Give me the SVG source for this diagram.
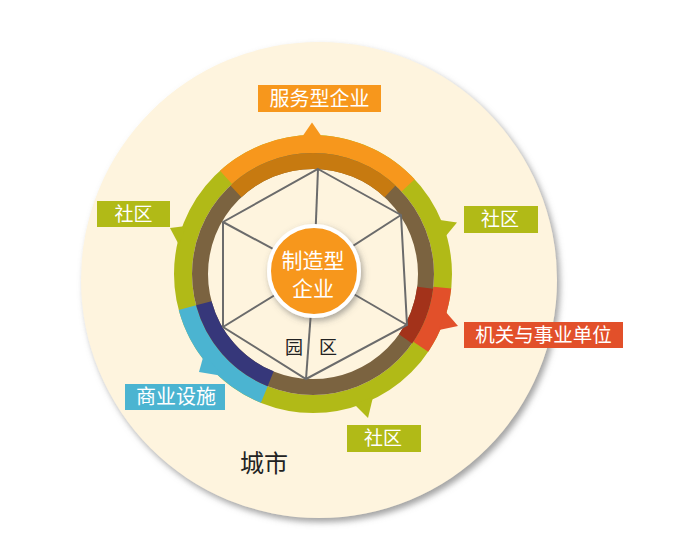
<svg xmlns="http://www.w3.org/2000/svg" width="687" height="546" viewBox="0 0 687 546">
<defs>
<filter id="bigShadow" x="-10%" y="-10%" width="120%" height="120%">
<feDropShadow dx="3" dy="4" stdDeviation="3" flood-color="#7a7a7a" flood-opacity="0.7"/>
</filter>
<filter id="ctrShadow" x="-30%" y="-30%" width="160%" height="160%">
<feDropShadow dx="2" dy="3" stdDeviation="3" flood-color="#555" flood-opacity="0.5"/>
</filter>
</defs>
<style>
.lbl{font-family:"Noto Sans CJK SC","Noto Sans",sans-serif;fill:#fff;text-anchor:middle}
.dark{font-family:"Noto Sans CJK SC","Noto Sans",sans-serif;fill:#222;text-anchor:middle}
.ring{fill:none}
.spoke{stroke:#6b6b6b;stroke-width:2;fill:none}
</style>
<rect width="687" height="546" fill="#fff"/>
<g id="city">
<circle cx="319" cy="280" r="238" fill="#fef4de" filter="url(#bigShadow)"/>
<text class="dark" x="264" y="472" font-size="24">城市</text>
</g>
<g id="ring">
<circle class="ring" cx="313" cy="274" r="130" stroke="#b1ba17" stroke-width="18"/>
<path class="ring" d="M226.02,177.40 A130,130 0 0 1 408.08,185.34" stroke="#f7971c" stroke-width="18"/>
<path class="ring" d="M442.29,287.59 A130,130 0 0 1 420.77,346.69" stroke="#e2502a" stroke-width="18"/>
<path class="ring" d="M264.30,394.53 A130,130 0 0 1 187.43,307.65" stroke="#4bb4d1" stroke-width="18"/>
<circle class="ring" cx="313" cy="274" r="113" stroke="#7b6340" stroke-width="16"/>
<path class="ring" d="M235.93,191.35 A113,113 0 0 1 390.07,191.35" stroke="#c77a10" stroke-width="16"/>
<path class="ring" d="M425.16,287.77 A113,113 0 0 1 405.57,338.81" stroke="#a3321a" stroke-width="16"/>
<path class="ring" d="M270.67,378.77 A113,113 0 0 1 203.85,303.25" stroke="#36377a" stroke-width="16"/>
</g>
<g id="park">
<polygon class="spoke" points="318,169 401,215 407,325 306,379 223,327 223,222"/>
<line class="spoke" x1="314" y1="271" x2="318" y2="169"/>
<line class="spoke" x1="314" y1="271" x2="401" y2="215"/>
<line class="spoke" x1="314" y1="271" x2="407" y2="325"/>
<line class="spoke" x1="314" y1="271" x2="306" y2="379"/>
<line class="spoke" x1="314" y1="271" x2="223" y2="327"/>
<line class="spoke" x1="314" y1="271" x2="223" y2="222"/>
<text class="dark" x="294" y="354" font-size="18">园</text>
<text class="dark" x="328" y="354" font-size="18">区</text>
</g>
<g id="manufacturing">
<circle cx="314" cy="271" r="45" fill="#f7971c" stroke="#fff" stroke-width="4" filter="url(#ctrShadow)"/>
<text class="lbl" x="313" y="268" font-size="21">制造型</text>
<text class="lbl" x="313" y="296" font-size="21">企业</text>
</g>
<g id="service">
<polygon points="302,137 312,122.5 322,137" fill="#f7971c"/>
<rect x="258" y="85" width="123" height="27" fill="#f7971c"/>
<text class="lbl" x="319.5" y="105.5" font-size="20">服务型企业</text>
</g>
<g id="community-right">
<polygon points="440,220 457,222.5 445,237" fill="#b1ba17"/>
<rect x="464" y="206" width="74" height="27" fill="#b1ba17"/>
<text class="lbl" x="500" y="226" font-size="19">社区</text>
</g>
<g id="institutions">
<polygon points="445,311 458,326 439,330" fill="#e2502a"/>
<rect x="464" y="322" width="159" height="26" fill="#e2502a"/>
<text class="lbl" x="543.5" y="342" font-size="19.5">机关与事业单位</text>
</g>
<g id="community-bottom">
<polygon points="354,404 368,418 373,397" fill="#b1ba17"/>
<rect x="347" y="425" width="74" height="27" fill="#b1ba17"/>
<text class="lbl" x="383" y="445" font-size="19">社区</text>
</g>
<g id="commercial">
<polygon points="204,354 199,372 223,376" fill="#4bb4d1"/>
<rect x="125" y="384" width="100" height="26" fill="#4bb4d1"/>
<text class="lbl" x="176" y="404" font-size="20">商业设施</text>
</g>
<g id="community-left">
<polygon points="186,226 170,228 179,245" fill="#b1ba17"/>
<rect x="97" y="201" width="73" height="26" fill="#b1ba17"/>
<text class="lbl" x="133.5" y="221" font-size="19">社区</text>
</g>
</svg>
